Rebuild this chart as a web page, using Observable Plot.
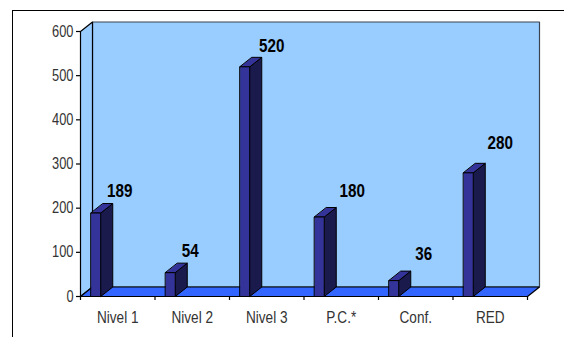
<!DOCTYPE html>
<html>
<head>
<meta charset="utf-8">
<script src="https://cdn.jsdelivr.net/npm/d3@7"></script>
<script src="https://cdn.jsdelivr.net/npm/@observablehq/plot@0.6"></script>
<style>
html,body{margin:0;padding:0;background:#fff;overflow:hidden}
#frame{position:absolute;left:12px;top:10px;width:552px;height:327px;border-left:1.5px solid #000;border-top:1.5px solid #000;box-sizing:border-box}
#chart{position:absolute;left:0;top:0}
</style>
</head>
<body>
<div id="frame"></div>
<div id="chart"></div>
<script>
const categories = ["Nivel 1", "Nivel 2", "Nivel 3", "P.C.*", "Conf.", "RED"];
const values = [189, 54, 520, 180, 36, 280];
const yTicks = [0, 100, 200, 300, 400, 500, 600];

// layout
const depthX = 0.161, depthY = 21.5, barStart = 0.142, barWidth = 0.13;
const labelDx = [2, -2, 5, 11, 8, 10];
const labelDy = [-22, -22, -21, -26, -27, -30];

const n = categories.length, yMax = yTicks[yTicks.length - 1];
const poly = (id, pts) => pts.map(([x, y]) => ({id, x, y}));

const sideWall = poly("w", [[0,0],[depthX,depthY],[depthX,yMax+depthY],[0,yMax]]);
const backWall = poly("b", [[depthX,depthY],[n+depthX,depthY],[n+depthX,yMax+depthY],[depthX,yMax+depthY]]);
const floor = poly("f", [[0,0],[n,0],[n+depthX,depthY],[depthX,depthY]]);

const sides = [], tops = [], fronts = [];
values.forEach((v, i) => {
  const a = i + barStart, b = a + barWidth;
  fronts.push(...poly(i, [[a,0],[b,0],[b,v],[a,v]]));
  sides.push(...poly(i, [[b,0],[b+depthX,depthY],[b+depthX,v+depthY],[b,v]]));
  tops.push(...poly(i, [[a,v],[b,v],[b+depthX,v+depthY],[a+depthX,v+depthY]]));
});

const face = (data, fill, stroke, sw = 1) => Plot.line(data, {
  x: "x", y: "y", z: "id", fill, stroke, strokeWidth: sw, curve: "linear-closed", strokeLinejoin: "miter"
});

const plot = Plot.plot({
  width: 564, height: 337,
  marginLeft: 80, marginRight: 37, marginTop: 31, marginBottom: 41,
  style: {background: "transparent", fontFamily: "'Liberation Sans',sans-serif"},
  x: {type: "linear", domain: [0, n]},
  y: {type: "linear", domain: [0, yMax]},
  marks: [
    face(backWall, "#99CCFF", "#3b4450", 1.2),
    face(sideWall, "#99CCFF", "#000", 1.2),
    face(floor, "#3366FF", "#000", 1.2),
    Plot.axisY({ticks: yTicks, tickSize: 4, tickPadding: 3, label: null, fontSize: 16, color: "#333", stroke: "#000", strokeOpacity: 1, strokeWidth: 1.2}),
    Plot.axisX({ticks: d3.range(n + 1), tickSize: 4, tickFormat: () => "", label: null, stroke: "#000", strokeOpacity: 1, strokeWidth: 1.2}),
    Plot.axisX({ticks: d3.range(n).map(i => i + 0.5), tickSize: 0, tickPadding: 14, label: null, fontSize: 17, color: "#333", tickFormat: d => categories[Math.floor(d)]}),
    face(sides, "#1A1A4D", "#000", 1),
    face(tops, "#333399", "#000", 1),
    face(fronts, "#333399", "#000", 1),
    ...values.map((v, i) => Plot.text([v], {
      x: i + 0.5, y: v, text: d => String(d),
      dx: labelDx[i], dy: labelDy[i],
      fontSize: 19, fontWeight: "bold", fill: "#000"
    }))
  ]
});
document.getElementById("chart").append(plot);

// Narrow the glyphs (no condensed face is installed)
plot.querySelectorAll("text").forEach(t => {
  const w = t.getComputedTextLength();
  if (!w) return;
  t.setAttribute("textLength", (w * 0.8).toFixed(1));
  t.setAttribute("lengthAdjust", "spacingAndGlyphs");
});
</script>
</body>
</html>
